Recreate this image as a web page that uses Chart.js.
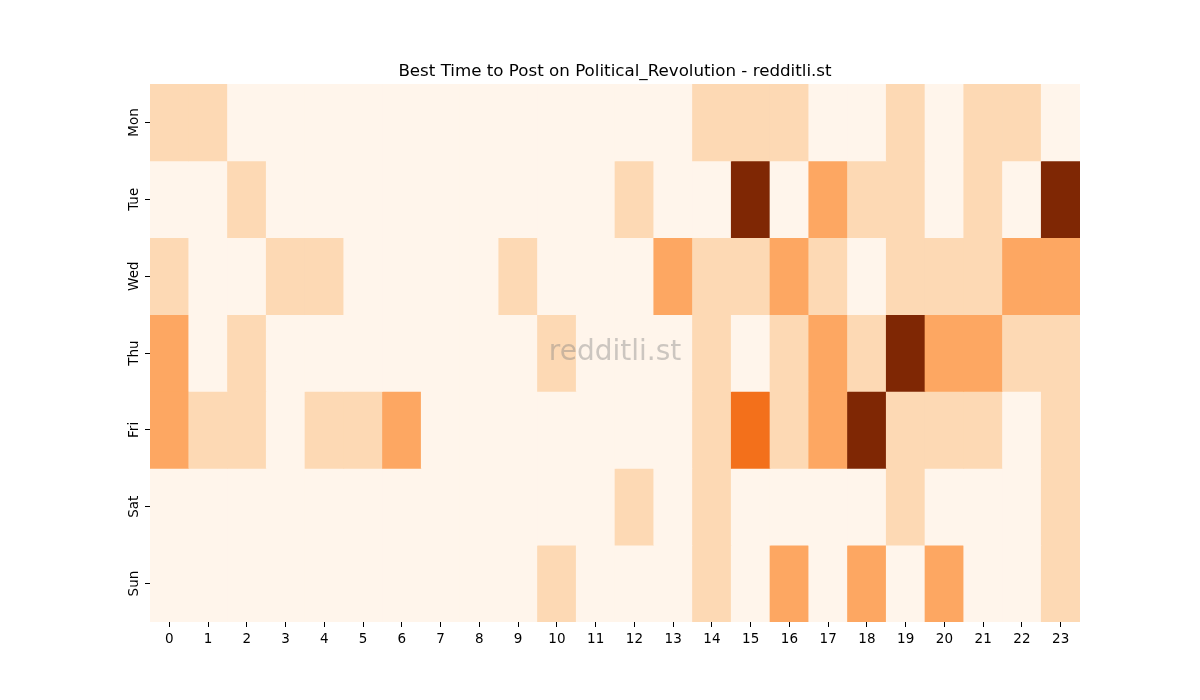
<!DOCTYPE html>
<html>
<head>
<meta charset="utf-8">
<script src="https://cdn.jsdelivr.net/npm/chart.js@4/dist/chart.umd.min.js"></script>
<style>
  html, body { margin: 0; padding: 0; background: #fff; }
  #wrap { width: 1200px; height: 700px; }
</style>
</head>
<body>
<div id="wrap"><canvas id="heat"></canvas></div>
<script>
// ================== Data ==================
const hours = ['0','1','2','3','4','5','6','7','8','9','10','11','12','13','14','15','16','17','18','19','20','21','22','23'];
const days = ['Mon', 'Tue', 'Wed', 'Thu', 'Fri', 'Sat', 'Sun'];

// posts per hour slot
const mon = [1,1,0,0,0,0,0,0,0,0,0,0,0,0,1,1,1,0,0,1,0,1,1,0];
const tue = [0,0,1,0,0,0,0,0,0,0,0,0,1,0,0,5,0,2,1,1,0,1,0,5];
const wed = [1,0,0,1,1,0,0,0,0,1,0,0,0,2,1,1,2,1,0,1,1,1,2,2];
const thu = [2,0,1,0,0,0,0,0,0,0,1,0,0,0,1,0,1,2,1,5,2,2,1,1];
const fri = [2,1,1,0,1,1,2,0,0,0,0,0,0,0,1,3,1,2,5,1,1,1,0,1];
const sat = [0,0,0,0,0,0,0,0,0,0,0,0,1,0,1,0,0,0,0,1,0,0,0,1];
const sun = [0,0,0,0,0,0,0,0,0,0,1,0,0,0,1,0,2,0,2,0,2,0,0,1];
const rows = [mon, tue, wed, thu, fri, sat, sun];
const maxValue = 5;

// matplotlib "Oranges" colormap stops
const oranges = [
  [255,245,235],[254,230,206],[253,208,162],[253,174,107],
  [253,141,60],[241,105,19],[217,72,1],[166,54,3],[127,39,4]
];
function orangeColor(v) {
  const t = Math.max(0, Math.min(1, v / maxValue)) * (oranges.length - 1);
  const i = Math.min(Math.floor(t), oranges.length - 2);
  const f = t - i;
  const c = oranges[i].map((a, k) => Math.round(a + (oranges[i + 1][k] - a) * f));
  return `rgb(${c[0]},${c[1]},${c[2]})`;
}

// ================== Watermark ==================
const watermark = {
  id: 'watermark',
  afterDatasetsDraw(chart) {
    const { ctx, chartArea } = chart;
    ctx.save();
    ctx.font = '28px "DejaVu Sans", sans-serif';
    ctx.fillStyle = 'rgba(128,128,128,0.4)';
    ctx.textAlign = 'center';
    ctx.textBaseline = 'middle';
    ctx.fillText('redditli.st', (chartArea.left + chartArea.right) / 2, (chartArea.top + chartArea.bottom) / 2);
    ctx.restore();
  }
};

// ================== Chart ==================
const datasets = rows.map((row, i) => ({
  label: days[i],
  data: row.map(() => 1),
  counts: row,
  backgroundColor: row.map(orangeColor),
  borderWidth: 0,
  barPercentage: 1,
  categoryPercentage: 1
}));

Chart.defaults.font.family = '"DejaVu Sans", sans-serif';
Chart.defaults.color = '#000';

new Chart(document.getElementById('heat'), {
  type: 'bar',
  data: { labels: hours, datasets },
  plugins: [watermark],
  options: {
    responsive: true,
    maintainAspectRatio: false,
    animation: false,
    layout: { padding: { top: 62, right: 120, bottom: 0, left: 110 } },
    plugins: {
      legend: { display: false },
      tooltip: { enabled: false },
      title: {
        display: true,
        fullSize: false, // centre over the plot, not the whole canvas
        text: 'Best Time to Post on Political_Revolution - redditli.st',
        font: { size: 16.7, weight: 'normal' },
        color: '#000',
        padding: { top: 0, bottom: 2 }
      }
    },
    scales: {
      x: {
        stacked: true,
        border: { display: false },
        grid: { display: true, offset: false, drawOnChartArea: false, drawTicks: true, tickLength: 5, color: '#000' },
        ticks: { font: { size: 13.5 }, padding: 4, maxRotation: 0, autoSkip: false },
        afterFit: s => { s.height = 78; }
      },
      y: {
        stacked: true,
        reverse: true,
        min: 0,
        max: 7,
        border: { display: false },
        grid: { display: true, drawOnChartArea: false, drawTicks: true, tickLength: 5, color: '#000' },
        afterBuildTicks: axis => {
          axis.ticks = days.map((d, i) => ({ value: i + 0.5 }));
        },
        ticks: {
          font: { size: 13.5 },
          minRotation: 90,
          maxRotation: 90,
          crossAlign: 'center',
          padding: -4,
          callback: v => days[Math.floor(v)]
        },
        afterFit: s => { s.width = 40; }
      }
    }
  }
});
</script>
</body>
</html>
